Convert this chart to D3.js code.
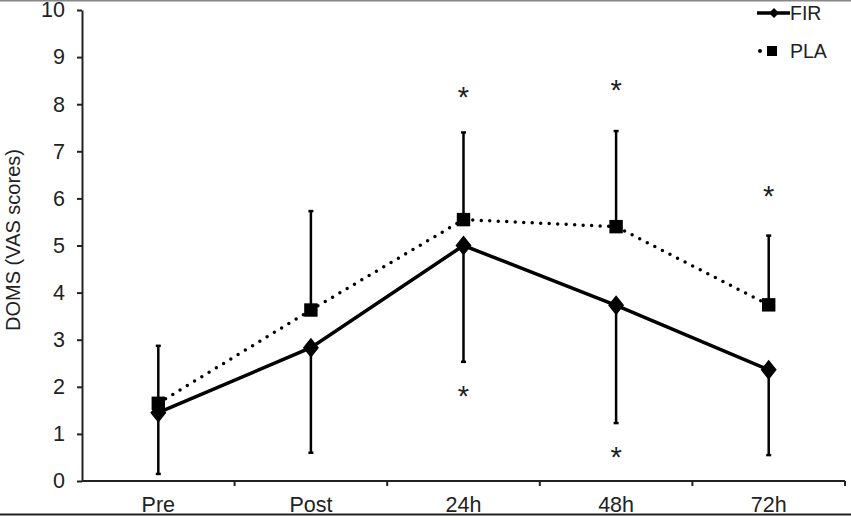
<!DOCTYPE html>
<html><head><meta charset="utf-8">
<script src="https://cdn.jsdelivr.net/npm/d3@7"></script>
<style>html,body{margin:0;padding:0;background:#fff;}svg{display:block;font-family:"Liberation Sans",Arial,sans-serif;}</style>
</head><body>
<svg id="c" width="851" height="516"></svg>
<script>
const categories = ["Pre","Post","24h","48h","72h"];
const firMean = [1.45, 2.83, 5.0, 3.73, 2.36];
const firLow  = [0.15, 0.6, 2.53, 1.23, 0.55];
const plaMean = [1.65, 3.63, 5.55, 5.4, 3.74];
const plaHigh = [2.87, 5.73, 7.4, 7.43, 5.21];
const sigAbove = [null, null, 8.2, 8.35, 6.1];
const sigBelow = [null, null, 1.85, 0.55, null];
const yTicks = [0,1,2,3,4,5,6,7,8,9,10];

const svg = d3.select("#c");
const x = d3.scaleBand().domain(categories).range([82, 845]);
const y = d3.scaleLinear().domain([0,10]).range([481, 10]);
const cx = c => x(c) + x.bandwidth()/2;
const FS = "21.5px";

// frame lines
svg.append("line").attr("x1",0).attr("x2",851).attr("y1",0.5).attr("y2",0.5).attr("stroke","#888").attr("stroke-width",2);
svg.append("line").attr("x1",0).attr("x2",851).attr("y1",514.5).attr("y2",514.5).attr("stroke","#222").attr("stroke-width",2);

// axes
const yAxis = d3.axisLeft(y).tickValues(yTicks).tickSize(5).tickPadding(12).tickSizeOuter(0);
const gy = svg.append("g").attr("transform","translate(82,0)").call(yAxis);
gy.attr("font-size",null).attr("font-family",null);
gy.select(".domain").attr("stroke","#222").attr("stroke-width",2);
gy.selectAll(".tick line").attr("stroke","#222").attr("stroke-width",2);
gy.selectAll(".tick text").style("font-size",FS).attr("fill","#222");

const gx = svg.append("g").attr("transform","translate(0,481)");
gx.append("line").attr("x1",82).attr("x2",845).attr("y1",0).attr("y2",0).attr("stroke","#222").attr("stroke-width",2);
const bounds = categories.slice(1).map(c => x(c)).concat([845]);
gx.selectAll("line.tk").data(bounds).enter().append("line").attr("class","tk")
  .attr("x1",d=>d).attr("x2",d=>d).attr("y1",0).attr("y2",5).attr("stroke","#222").attr("stroke-width",2);
gx.selectAll("text").data(categories).enter().append("text")
  .attr("x",d=>cx(d)).attr("y",31).attr("text-anchor","middle").style("font-size",FS).attr("fill","#222").text(d=>d);

// y label
svg.append("text").attr("transform","translate(20,240) rotate(-90)").attr("text-anchor","middle")
  .style("font-size","20px").attr("fill","#222").text("DOMS (VAS scores)");

// error bars
function errBars(means, ends) {
  categories.forEach((c,i) => {
    svg.append("line").attr("x1",cx(c)).attr("x2",cx(c)).attr("y1",y(means[i])).attr("y2",y(ends[i]))
      .attr("stroke","#000").attr("stroke-width",2.5);
    svg.append("line").attr("x1",cx(c)-2.5).attr("x2",cx(c)+2.5).attr("y1",y(ends[i])).attr("y2",y(ends[i]))
      .attr("stroke","#000").attr("stroke-width",2.5);
  });
}
errBars(plaMean, plaHigh);
errBars(firMean, firLow);

const line = d3.line().x((d,i)=>cx(categories[i])).y(d=>y(d));
svg.append("path").datum(plaMean).attr("d",line).attr("fill","none").attr("stroke","#000")
  .attr("stroke-width",3.5).attr("stroke-linecap","round").attr("stroke-dasharray","0 8.5");
svg.append("path").datum(firMean).attr("d",line).attr("fill","none").attr("stroke","#000").attr("stroke-width",3.5);

const sq = d3.symbol().type(d3.symbolSquare).size(180);
svg.selectAll("path.pla").data(plaMean).enter().append("path").attr("class","pla")
  .attr("d",sq).attr("transform",(d,i)=>`translate(${cx(categories[i])},${y(d)})`).attr("fill","#000");
const diamond = "M0,-10L8,0L0,10L-8,0Z";
svg.selectAll("path.fir").data(firMean).enter().append("path").attr("class","fir")
  .attr("d",diamond).attr("transform",(d,i)=>`translate(${cx(categories[i])},${y(d)})`).attr("fill","#000");

// significance asterisks
function stars(vals){
  categories.forEach((c,i)=>{
    if (vals[i]==null) return;
    svg.append("text").attr("x",cx(c)).attr("y",y(vals[i])+12).attr("text-anchor","middle")
      .style("font-size","29px").attr("fill","#222").text("*");
  });
}
stars(sigAbove); stars(sigBelow);

// legend
const lg = svg.append("g");
lg.append("line").attr("x1",757).attr("x2",790).attr("y1",13).attr("y2",13).attr("stroke","#000").attr("stroke-width",3.5);
lg.append("path").attr("d","M0,-5L5,0L0,5L-5,0Z").attr("transform","translate(774,13)").attr("fill","#000");
lg.append("text").attr("x",790).attr("y",20).style("font-size","19.5px").attr("fill","#222").text("FIR");
lg.append("circle").attr("cx",760).attr("cy",51).attr("r",2).attr("fill","#000");
lg.append("rect").attr("x",767).attr("y",46).attr("width",10).attr("height",10).attr("fill","#000");
lg.append("text").attr("x",790).attr("y",58).style("font-size","19.5px").attr("fill","#222").text("PLA");
</script>
</body></html>
